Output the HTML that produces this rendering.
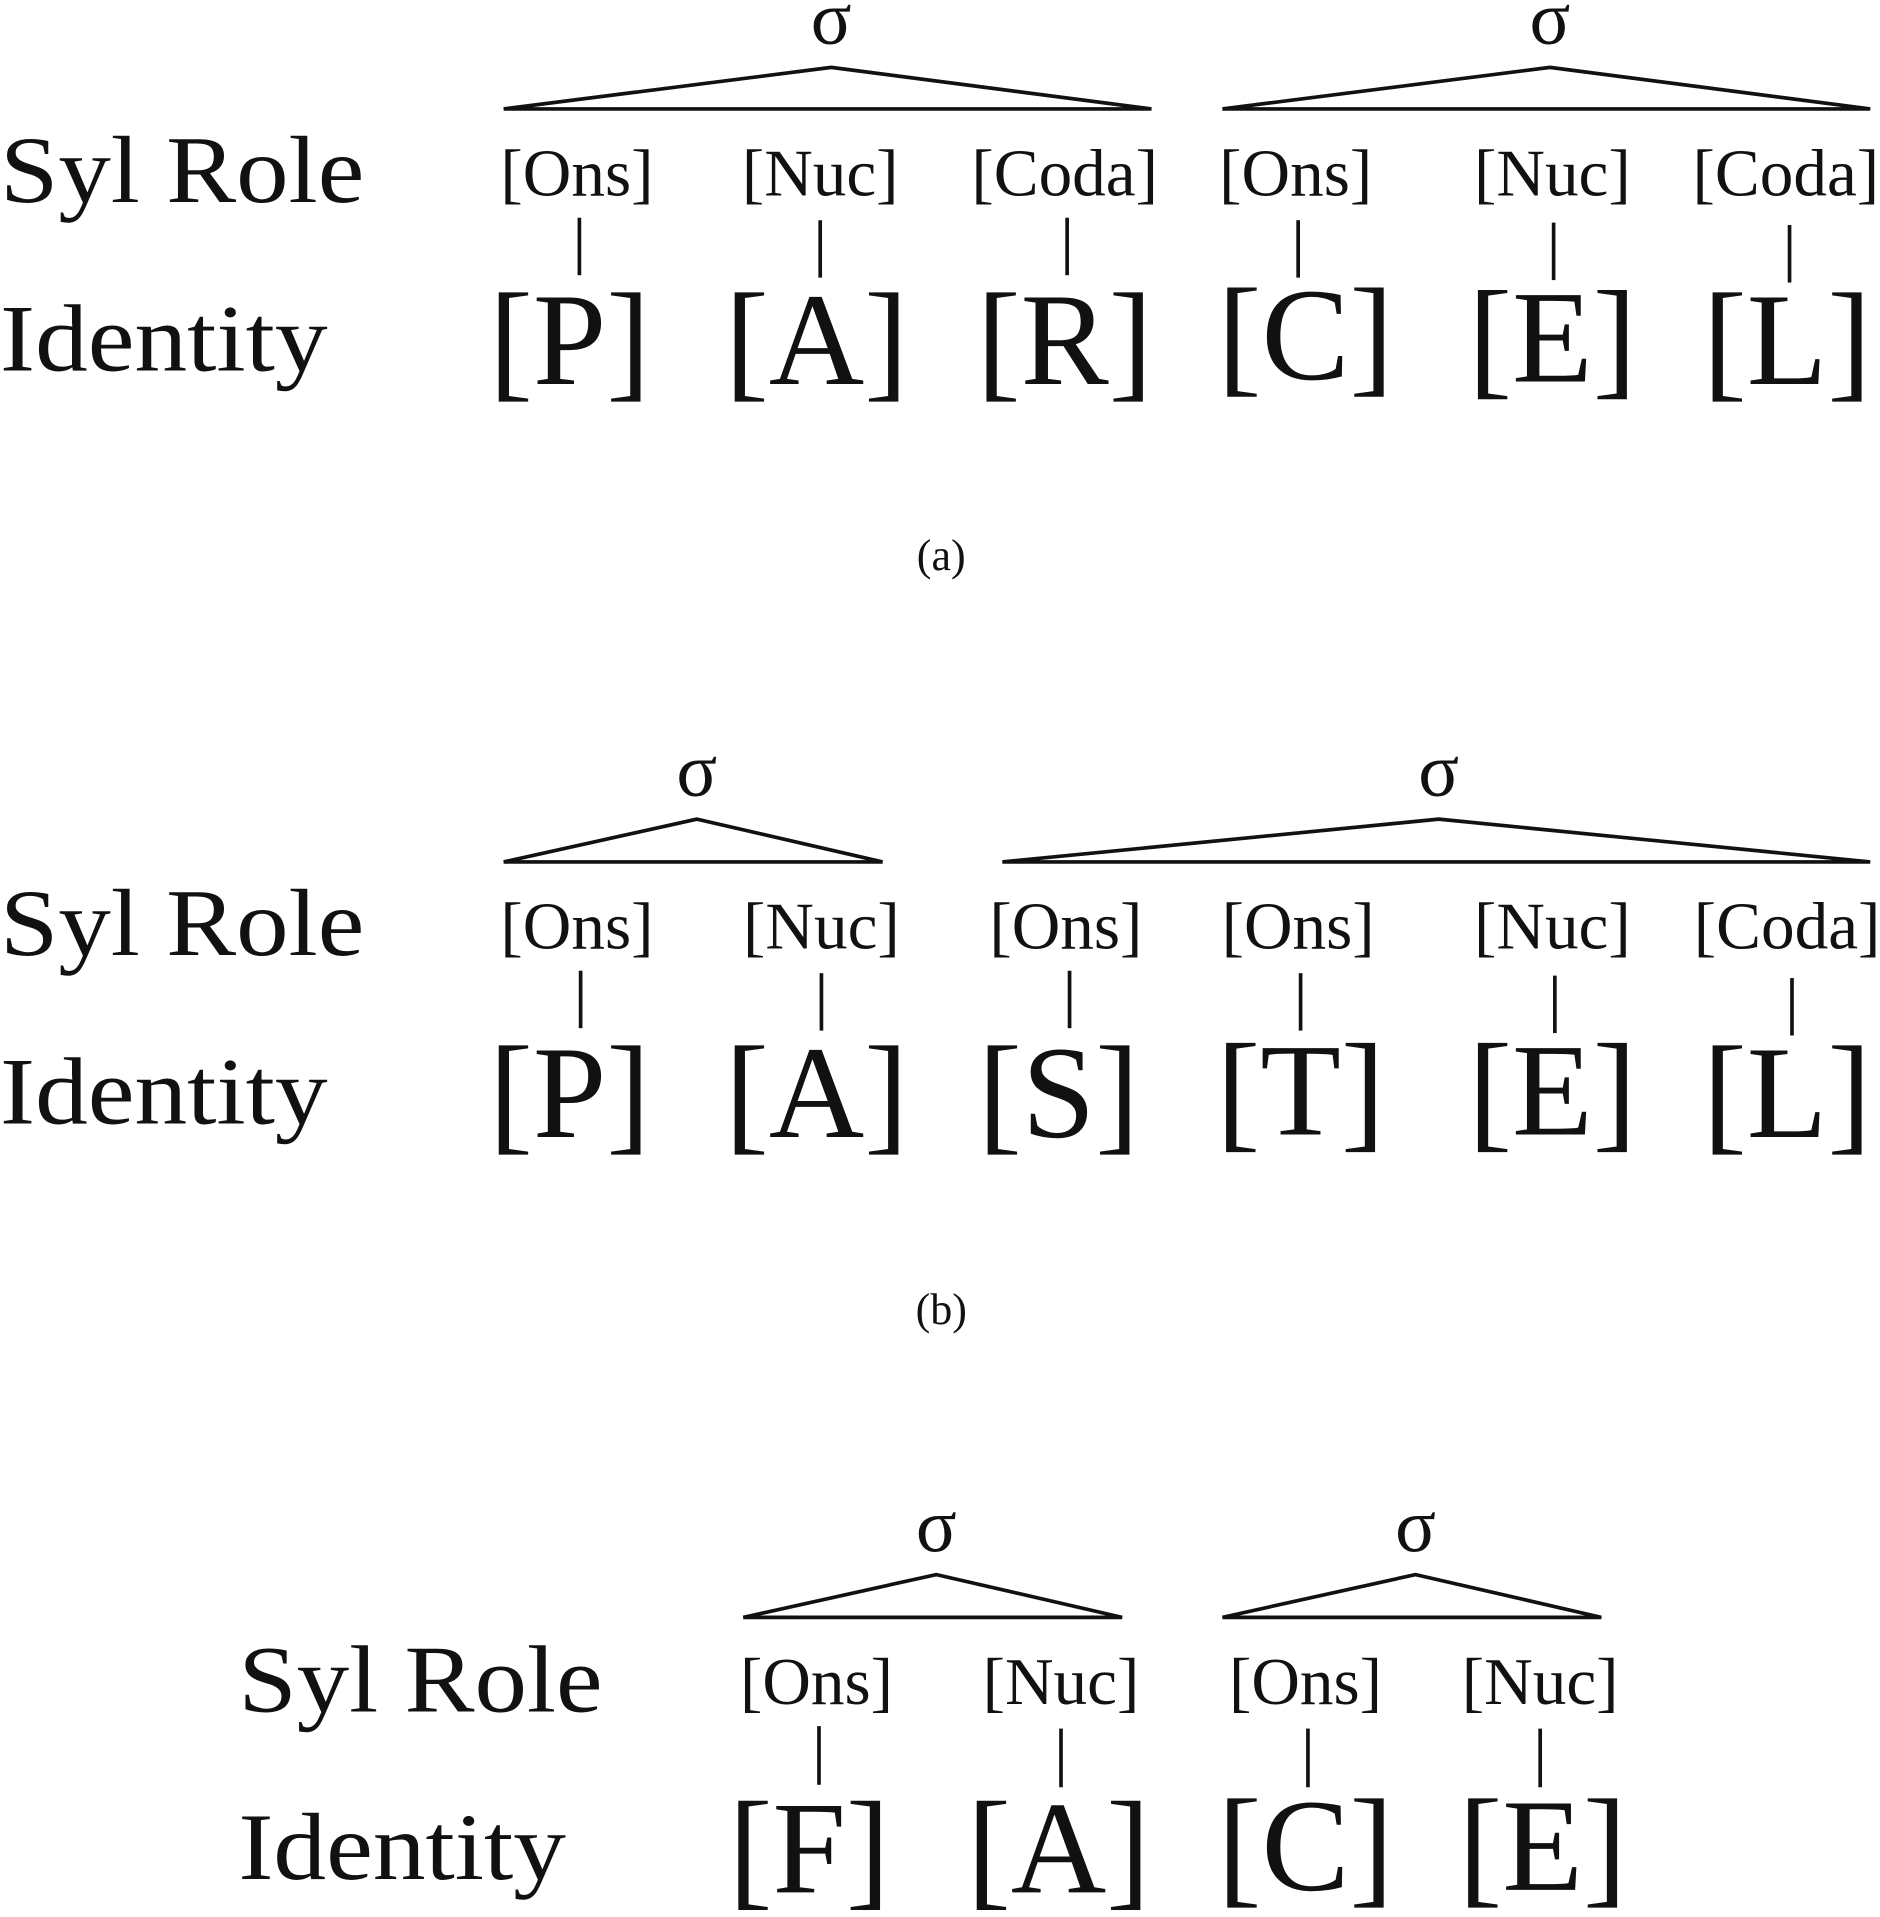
<!DOCTYPE html>
<html><head><meta charset="utf-8"><style>
html,body{margin:0;padding:0;background:#fff;}
svg{display:block;}
text{font-family:"Liberation Serif","DejaVu Serif",serif;fill:#111;}
.big{font-size:78px;}
.sig{font-size:62px;text-anchor:middle;}
.role{font-size:55px;text-anchor:middle;}
.id{font-size:108px;text-anchor:middle;}
.cap{font-size:36px;text-anchor:middle;}
line,polyline{stroke:#111;stroke-width:3;fill:none;}
</style></head><body>
<svg width="1880" height="1917" viewBox="0 0 1538 1568" xmlns="http://www.w3.org/2000/svg">
<!-- (a) -->
<g>
<text class="sig" x="680" y="36">σ</text>
<text class="sig" x="1268" y="36">σ</text>
<polyline points="412,89 680,55 942,89 412,89"/>
<polyline points="1000,89 1268,55 1530,89 1000,89"/>
<text class="big" x="0" y="165" textLength="298" lengthAdjust="spacingAndGlyphs">Syl Role</text>
<text class="big" x="0" y="303" textLength="268" lengthAdjust="spacingAndGlyphs">Identity</text>
<text class="role" x="472" y="160">[Ons]</text>
<text class="role" x="671" y="160">[Nuc]</text>
<text class="role" x="871" y="160">[Coda]</text>
<text class="role" x="1060" y="160">[Ons]</text>
<text class="role" x="1270" y="160">[Nuc]</text>
<text class="role" x="1461" y="160">[Coda]</text>
<line x1="474" y1="178" x2="474" y2="225"/>
<line x1="671" y1="180" x2="671" y2="227"/>
<line x1="873" y1="178" x2="873" y2="225"/>
<line x1="1062" y1="180" x2="1062" y2="227"/>
<line x1="1271" y1="182" x2="1271" y2="229"/>
<line x1="1464" y1="184" x2="1464" y2="231"/>
<text class="id" x="466" y="314">[P]</text>
<text class="id" x="668" y="314">[A]</text>
<text class="id" x="871" y="314">[R]</text>
<text class="id" x="1068" y="310">[C]</text>
<text class="id" x="1270" y="312">[E]</text>
<text class="id" x="1462" y="314">[L]</text>
<text class="cap" x="770" y="466">(a)</text>
</g>
<!-- (b) -->
<g>
<text class="sig" x="570" y="651">σ</text>
<text class="sig" x="1177" y="651">σ</text>
<polyline points="412,705 570,670 722,705 412,705"/>
<polyline points="820,705 1177,670 1530,705 820,705"/>
<text class="big" x="0" y="781" textLength="298" lengthAdjust="spacingAndGlyphs">Syl Role</text>
<text class="big" x="0" y="919" textLength="268" lengthAdjust="spacingAndGlyphs">Identity</text>
<text class="role" x="472" y="776">[Ons]</text>
<text class="role" x="672" y="776">[Nuc]</text>
<text class="role" x="872" y="776">[Ons]</text>
<text class="role" x="1062" y="776">[Ons]</text>
<text class="role" x="1270" y="776">[Nuc]</text>
<text class="role" x="1462" y="776">[Coda]</text>
<line x1="475" y1="794" x2="475" y2="841"/>
<line x1="672" y1="796" x2="672" y2="843"/>
<line x1="875" y1="794" x2="875" y2="841"/>
<line x1="1064" y1="796" x2="1064" y2="843"/>
<line x1="1272" y1="798" x2="1272" y2="845"/>
<line x1="1466" y1="800" x2="1466" y2="847"/>
<text class="id" x="466" y="930">[P]</text>
<text class="id" x="668" y="930">[A]</text>
<text class="id" x="866" y="930">[S]</text>
<text class="id" x="1064" y="928">[T]</text>
<text class="id" x="1270" y="928">[E]</text>
<text class="id" x="1462" y="930">[L]</text>
<text class="cap" x="770" y="1083">(b)</text>
</g>
<!-- (c) -->
<g>
<text class="sig" x="766" y="1269">σ</text>
<text class="sig" x="1158" y="1269">σ</text>
<polyline points="608,1323 766,1288 918,1323 608,1323"/>
<polyline points="1000,1323 1158,1288 1310,1323 1000,1323"/>
<text class="big" x="195" y="1400" textLength="298" lengthAdjust="spacingAndGlyphs">Syl Role</text>
<text class="big" x="195" y="1537" textLength="268" lengthAdjust="spacingAndGlyphs">Identity</text>
<text class="role" x="668" y="1394">[Ons]</text>
<text class="role" x="868" y="1394">[Nuc]</text>
<text class="role" x="1068" y="1394">[Ons]</text>
<text class="role" x="1260" y="1394">[Nuc]</text>
<line x1="670" y1="1412" x2="670" y2="1460"/>
<line x1="868" y1="1414" x2="868" y2="1462"/>
<line x1="1070" y1="1414" x2="1070" y2="1462"/>
<line x1="1260" y1="1414" x2="1260" y2="1462"/>
<text class="id" x="662" y="1548">[F]</text>
<text class="id" x="866" y="1548">[A]</text>
<text class="id" x="1068" y="1546">[C]</text>
<text class="id" x="1262" y="1546">[E]</text>
</g>
</svg>
</body></html>
